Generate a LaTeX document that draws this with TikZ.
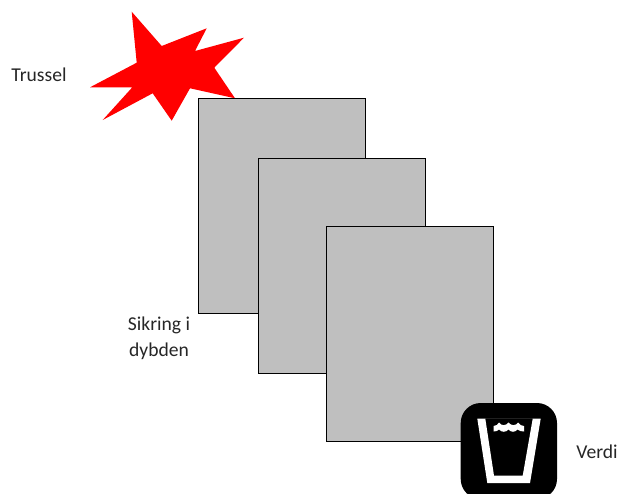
\documentclass[tikz,border=0pt]{standalone}
\usepackage{fontspec}
\setmainfont{Carlito}
\tikzset{
  x=0.75pt,y=-0.75pt,
  layerbox/.style={draw=black,line width=0.75pt,fill=boxgray},
  lbl/.style={font=\fontsize{14.7}{19.5}\selectfont,align=center,inner sep=0pt,text=black!85}
}
\definecolor{boxgray}{RGB}{191,191,191}
\begin{document}
\begin{tikzpicture}
\useasboundingbox (0,0) rectangle (620,493);
\fill[red] (131.7,11.7) -- (161.7,46) -- (206.7,28.3) -- (195,51) -- (244,37.7) -- (214.3,67.7) -- (235,98.3) -- (190,88.3) -- (171.7,120.7) -- (152.7,93.3) -- (102.7,120) -- (132.3,87.3) -- (90,87.3) -- (136.7,62.7) -- cycle;
\draw[layerbox] (198,98.5) rectangle (365.5,313.5);
\draw[layerbox] (258,158.5) rectangle (425.5,373.5);
\draw[layerbox] (326,226.5) rectangle (493.5,441.5);
\begin{scope}
\clip (0,0) rectangle (620,493);
\fill[black,rounded corners=15pt] (460.7,403) rectangle (557,499);
\end{scope}
\fill[white,even odd rule] (477.3,418.7) -- (540.7,418.7) -- (530,483) -- (487.3,483) -- cycle
  (485.3,418.7) -- (532.7,418.7) -- (522.7,475.7) -- (494,475.7) -- cycle;
\fill[white] (493.5,426) .. controls (496,426) and (498,424.5) .. (499,422.5)
  .. controls (501,426) and (506,426) .. (508.5,422.5)
  .. controls (511,426) and (516,426) .. (518,422.5)
  .. controls (519.5,425) and (522,426) .. (524,426)
  -- (524,431.5) .. controls (521,431.5) and (519.5,431) .. (517.5,429.5)
  .. controls (515,432.5) and (511,432.5) .. (508.5,429.5)
  .. controls (506,432.5) and (501.5,432.5) .. (499,429.5)
  .. controls (497.5,431) and (496,431.5) .. (493.5,431.5) -- cycle;
\node[lbl] (threat) at (39,74.5) {Trussel};
\node[lbl] (defence) at (159,338) {Sikring i\\dybden};
\node[lbl] (value) at (597,451.5) {Verdi};
\end{tikzpicture}
\end{document}
